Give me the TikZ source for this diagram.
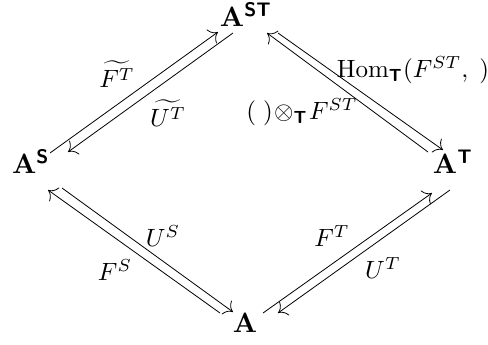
\documentclass[tikz,border=0pt]{standalone}
\usetikzlibrary{arrows.meta}
\DeclareMathAlphabet{\mathbsf}{OT1}{cmss}{bx}{n}
\tikzset{
  obj/.style={inner sep=0pt, scale=2.8},
  lbl/.style={inner sep=0pt, scale=2.5},
  arr/.style={line width=0.8pt, -{To[scale=2.4]}},
}
\begin{document}
\begin{tikzpicture}[x=1pt,y=1pt]
\useasboundingbox (0,0) rectangle (488,-345);
\node[obj] (AST) at (246,-15) {$\mathbf{A}^{\mathbsf{ST}}$};
\node[obj] (AS) at (31,-162) {$\mathbf{A}^{\mathbsf{S}}$};
\node[obj] (AT) at (453,-162) {$\mathbf{A}^{\mathbsf{T}}$};
\node[obj] (A) at (245,-323) {$\mathbf{A}$};
% top-left
\draw[arr] ([shift={(19,9)}]AS.center) -- ([shift={(-28,-17)}]AST.center);
\draw[arr] ([shift={(-13,-18)}]AST.center) -- ([shift={(37,10)}]AS.center);
% top-right
\draw[arr] ([shift={(32,-18)}]AST.center) -- ([shift={(-10,12)}]AT.center);
\draw[arr] ([shift={(-25,10)}]AT.center) -- ([shift={(21,-18)}]AST.center);
% bottom-left
\draw[arr] ([shift={(-25,10)}]A.center) -- ([shift={(17,-28)}]AS.center);
\draw[arr] ([shift={(31,-26)}]AS.center) -- ([shift={(-12,11)}]A.center);
% bottom-right
\draw[arr] ([shift={(18,10)}]A.center) -- ([shift={(-21,-31)}]AT.center);
\draw[arr] ([shift={(-3,-28)}]AT.center) -- ([shift={(33,10)}]A.center);
% labels
\node[lbl] (l1) at (117,-74) {$\widetilde{F^T}$};
\node[lbl] (l2) at (168,-113) {$\widetilde{U^T}$};
\node[lbl] (l3) at (413,-70) {$\mathrm{Hom}_{\mathbsf{T}}(F^{ST},\;)$};
\node[lbl] (l4) at (302,-112) {$(\;)\!\otimes_{\mathbsf{T}}\!F^{ST}$};
\node[lbl] (l5) at (163,-236) {$U^S$};
\node[lbl] (l6) at (115,-270) {$F^S$};
\node[lbl] (l7) at (332,-236) {$F^T$};
\node[lbl] (l8) at (383,-268) {$U^T$};
\end{tikzpicture}
\end{document}
